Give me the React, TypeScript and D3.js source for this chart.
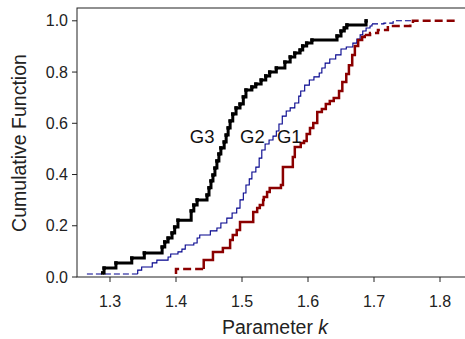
import * as d3 from 'd3';

// G3 (black, thick)
const g3K = [1.289, 1.291, 1.309, 1.333, 1.352, 1.379, 1.383, 1.388, 1.394, 1.398, 1.403, 1.423, 1.427, 1.432, 1.447, 1.45, 1.453, 1.456, 1.459, 1.462, 1.465, 1.468, 1.473, 1.476, 1.479, 1.482, 1.486, 1.491, 1.497, 1.502, 1.506, 1.515, 1.521, 1.529, 1.536, 1.542, 1.552, 1.565, 1.573, 1.58, 1.588, 1.592, 1.598, 1.606, 1.644, 1.65, 1.655, 1.659, 1.688];
const g3F = [0.016, 0.035, 0.055, 0.074, 0.094, 0.117, 0.137, 0.152, 0.172, 0.195, 0.222, 0.258, 0.281, 0.301, 0.32, 0.348, 0.375, 0.398, 0.425, 0.453, 0.48, 0.504, 0.527, 0.554, 0.582, 0.609, 0.636, 0.66, 0.675, 0.703, 0.73, 0.742, 0.753, 0.769, 0.785, 0.8, 0.816, 0.839, 0.859, 0.874, 0.886, 0.902, 0.913, 0.925, 0.941, 0.96, 0.972, 0.984, 1.0];

// G2 (blue, thin) with dashed tails
const g2LeadK = [1.265, 1.342];
const g2LeadF = [0.012, 0.012];
const g2K = [1.342, 1.348, 1.364, 1.371, 1.388, 1.392, 1.403, 1.409, 1.414, 1.427, 1.432, 1.436, 1.452, 1.462, 1.468, 1.477, 1.485, 1.492, 1.497, 1.502, 1.506, 1.511, 1.515, 1.521, 1.526, 1.53, 1.535, 1.541, 1.547, 1.552, 1.556, 1.561, 1.567, 1.573, 1.58, 1.586, 1.589, 1.595, 1.602, 1.609, 1.617, 1.621, 1.626, 1.633, 1.642, 1.65, 1.658, 1.668, 1.674, 1.679, 1.683, 1.688, 1.694, 1.697];
const g2F = [0.027, 0.039, 0.055, 0.066, 0.078, 0.09, 0.098, 0.109, 0.125, 0.133, 0.152, 0.164, 0.18, 0.191, 0.211, 0.23, 0.25, 0.269, 0.301, 0.328, 0.359, 0.383, 0.41, 0.429, 0.464, 0.496, 0.519, 0.535, 0.55, 0.57, 0.597, 0.628, 0.648, 0.66, 0.679, 0.706, 0.726, 0.749, 0.769, 0.781, 0.796, 0.816, 0.835, 0.851, 0.867, 0.89, 0.898, 0.913, 0.929, 0.945, 0.96, 0.972, 0.98, 0.988];
const g2TailK = [1.715, 1.729, 1.759];
const g2TailF = [0.991, 1.0, 1.0];

// G1 (dark red) with dashed tails
const g1LeadK = [1.4, 1.4, 1.442];
const g1LeadF = [0.012, 0.031, 0.031];
const g1K = [1.442, 1.456, 1.471, 1.482, 1.486, 1.492, 1.497, 1.517, 1.523, 1.527, 1.532, 1.533, 1.538, 1.542, 1.559, 1.562, 1.577, 1.58, 1.589, 1.594, 1.598, 1.603, 1.608, 1.614, 1.621, 1.627, 1.633, 1.639, 1.647, 1.652, 1.658, 1.662, 1.667, 1.671, 1.676, 1.682, 1.686];
const g1F = [0.066, 0.098, 0.113, 0.144, 0.164, 0.183, 0.215, 0.254, 0.269, 0.281, 0.301, 0.312, 0.332, 0.347, 0.359, 0.429, 0.468, 0.507, 0.523, 0.531, 0.558, 0.582, 0.601, 0.644, 0.656, 0.675, 0.687, 0.699, 0.726, 0.761, 0.792, 0.827, 0.867, 0.902, 0.925, 0.937, 0.945];
const g1TailK = [1.694, 1.706, 1.721, 1.755, 1.759, 1.826];
const g1TailF = [0.952, 0.964, 0.98, 0.991, 1.0, 1.0];

const xTicks = [1.3, 1.4, 1.5, 1.6, 1.7, 1.8];
const yTicks = [0, 0.2, 0.4, 0.6, 0.8, 1.0];
const groupNames = ['G3', 'G2', 'G1'];
const labelK = [1.421, 1.497, 1.553];
const labelF = [0.523, 0.523, 0.523];

const width = 465;
const height = 339;
const font = '"Liberation Sans", Arial, sans-serif';

const x = d3.scaleLinear().domain([1.25, 1.85]).range([77, 473]);
const y = d3.scaleLinear().domain([0, 1.05]).range([277, 8]);

type Pt = [number, number];
const zip = (ks: number[], fs: number[]): Pt[] => ks.map((k, i) => [k, fs[i]]);

const step = d3
  .line<Pt>()
  .x((d) => x(d[0]))
  .y((d) => y(d[1]))
  .curve(d3.curveStepAfter);

const g2Lead = zip(g2LeadK, g2LeadF);
const g2Solid = [g2Lead[g2Lead.length - 1], ...zip(g2K, g2F)];
const g2Tail = [g2Solid[g2Solid.length - 1], ...zip(g2TailK, g2TailF)];

const g1Lead = zip(g1LeadK, g1LeadF);
const g1Solid = [g1Lead[g1Lead.length - 1], ...zip(g1K, g1F)];
const g1Tail = [g1Solid[g1Solid.length - 1], ...zip(g1TailK, g1TailF)];

const g3Pts = zip(g3K, g3F);

const blue = '#00008c';
const red = '#8b0000';

export default function App() {
  return (
    <svg
      width={width}
      height={height}
      style={{ position: 'absolute', left: 0, top: 0, background: '#fff' }}
      fontFamily={font}
    >
      {/* frame */}
      <rect x={77} y={8} width={396} height={269} fill="none" stroke="#222" strokeWidth={1} />

      {/* G2 */}
      <path d={step(g2Lead) ?? ''} fill="none" stroke={blue} strokeWidth={1.1} strokeDasharray="6,3" />
      <path d={step(g2Solid) ?? ''} fill="none" stroke={blue} strokeWidth={1.1} />
      <path d={step(g2Tail) ?? ''} fill="none" stroke={blue} strokeWidth={1.1} strokeDasharray="6,3" />

      {/* G1 */}
      <path d={step(g1Lead) ?? ''} fill="none" stroke={red} strokeWidth={2.5} strokeDasharray="8,4" />
      <path d={step(g1Solid) ?? ''} fill="none" stroke={red} strokeWidth={2.5} />
      <path d={step(g1Tail) ?? ''} fill="none" stroke={red} strokeWidth={2.5} strokeDasharray="8,4" />

      {/* G3 */}
      <path d={step(g3Pts) ?? ''} fill="none" stroke="#000" strokeWidth={3} />
      {g3Pts.map((d, i) => (
        <rect key={i} x={x(d[0]) - 1.75} y={y(d[1]) - 1.75} width={3.5} height={3.5} fill="#000" />
      ))}

      {/* group labels */}
      {groupNames.map((g, i) => (
        <text key={g} x={x(labelK[i])} y={y(labelF[i])} fontSize={18.5} fill="#111">
          {g}
        </text>
      ))}

      {/* y axis ticks */}
      {yTicks.map((t) => (
        <g key={t}>
          <line x1={72} x2={77} y1={y(t)} y2={y(t)} stroke="#222" />
          <text x={68} y={y(t) + 5.5} textAnchor="end" fontSize={16} fill="#222">
            {d3.format('.1f')(t)}
          </text>
        </g>
      ))}

      {/* x axis ticks */}
      {xTicks.map((t) => (
        <g key={t}>
          <line x1={x(t)} x2={x(t)} y1={277} y2={282} stroke="#222" />
          <text x={x(t)} y={307} textAnchor="middle" fontSize={16} fill="#222">
            {d3.format('.1f')(t)}
          </text>
        </g>
      ))}

      <text transform="translate(26,143) rotate(-90)" textAnchor="middle" fontSize={19.5} fill="#222">
        Cumulative Function
      </text>
      <text x={275} y={334} textAnchor="middle" fontSize={19.5} fill="#222">
        Parameter <tspan fontStyle="italic">k</tspan>
      </text>
    </svg>
  );
}
